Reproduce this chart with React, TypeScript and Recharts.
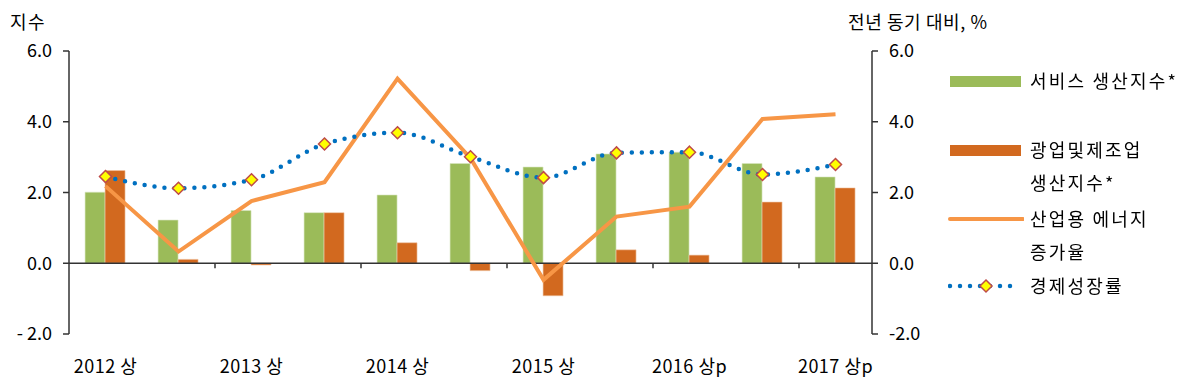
import {
  ComposedChart,
  Bar,
  Line,
  XAxis,
  YAxis,
  ReferenceLine,
  Legend,
  Label,
} from 'recharts'

const categories = [
  '2012 상', '2012 하', '2013 상', '2013 하', '2014 상', '2014 하',
  '2015 상', '2015 하', '2016 상p', '2016 하p', '2017 상p',
]
const serviceIndex = [2.01, 1.22, 1.49, 1.43, 1.93, 2.82, 2.72, 3.09, 3.14, 2.82, 2.44]
const miningIndex = [2.62, 0.11, -0.05, 1.43, 0.58, -0.21, -0.92, 0.38, 0.23, 1.73, 2.13]
const energyGrowth = [2.18, 0.33, 1.76, 2.29, 5.22, 2.97, -0.47, 1.32, 1.6, 4.08, 4.21]
const gdpGrowth = [2.45, 2.12, 2.36, 3.37, 3.69, 3.01, 2.42, 3.12, 3.14, 2.51, 2.79]
const yTicks = [-2, 0, 2, 4, 6]

const legendItems = [
  { key: 'service', lines: ['서비스 생산지수*'], kind: 'bar', color: '#9bbb59', top: 64 },
  { key: 'mining', lines: ['광업및제조업', '생산지수*'], kind: 'bar', color: '#d2691f', top: 133 },
  { key: 'energy', lines: ['산업용 에너지', '증가율'], kind: 'line', color: '#f79646', top: 202 },
  { key: 'gdp', lines: ['경제성장률'], kind: 'dots', color: '#0070c0', top: 269 },
]

const chartData = categories.map((c, i) => ({
  name: c,
  service: serviceIndex[i],
  mining: miningIndex[i],
  energy: energyGrowth[i],
  gdp: gdpGrowth[i],
}))

const FONT = '"Noto Sans CJK KR", "Noto Sans", sans-serif'
const TXT = '#000'
const W = 1200
const H = 386
const M = { top: 51, right: 268, bottom: 0, left: 9 }
const AXIS_W = 60
const X_H = 52
const plotLeft = M.left + AXIS_W
const plotRight = W - M.right - AXIS_W
const plotTop = M.top
const plotBottom = H - M.bottom - X_H
const band = (plotRight - plotLeft) / categories.length
const zeroY = plotTop + ((6 - 0) / 8) * (plotBottom - plotTop)

function XTick(props: any) {
  const { x, y, payload } = props
  const i = payload.index
  if (i % 2 !== 0) return null
  return (
    <g>
      {i > 0 && (
        <line x1={x - band / 2} x2={x - band / 2} y1={zeroY} y2={zeroY + 5} stroke="#333" strokeWidth={1.5} />
      )}
      <text x={x} y={y + 31} textAnchor="middle" fill={TXT} fontSize={18} fontFamily={FONT} letterSpacing={0.5}>
        {payload.value}
      </text>
    </g>
  )
}

function Diamond(props: any) {
  const { cx, cy } = props
  if (cx == null || cy == null) return null
  const r = 6
  return (
    <polygon
      points={`${cx},${cy - r} ${cx + r},${cy} ${cx},${cy + r} ${cx - r},${cy}`}
      fill="#ffff00"
      stroke="#be4b48"
      strokeWidth={1.5}
    />
  )
}

function LegendBox() {
  return (
    <div style={{ position: 'relative', width: 250, height: 320, fontFamily: FONT }}>
      {legendItems.map((it) => (
        <div key={it.key} style={{ position: 'absolute', left: 0, top: it.top }}>
          <svg width={76} height={34} style={{ position: 'absolute', left: -2, top: 0 }}>
            {it.kind === 'bar' && <rect x={2} y={12} width={71} height={11} fill={it.color} />}
            {it.kind === 'line' && (
              <line x1={2} x2={75} y1={17} y2={17} stroke={it.color} strokeWidth={4} strokeLinecap="round" />
            )}
            {it.kind === 'dots' && (
              <g>
                <line x1={2} x2={66} y1={17} y2={17} stroke={it.color} strokeWidth={4.5}
                  strokeDasharray="0 10" strokeLinecap="round" />
                <Diamond cx={38} cy={17} />
              </g>
            )}
          </svg>
          <div style={{ position: 'absolute', left: 80, top: 0, width: 200 }}>
            {it.lines.map((l) => (
              <div key={l} style={{ fontSize: 18, lineHeight: '33px', letterSpacing: 2.2, color: TXT, whiteSpace: 'nowrap' }}>
                {l}
              </div>
            ))}
          </div>
        </div>
      ))}
    </div>
  )
}

const fmtLeft = (v: number) => (v < 0 ? `- ${Math.abs(v).toFixed(1)}` : v.toFixed(1))
const fmtRight = (v: number) => v.toFixed(1)

export default function App() {
  return (
    <div style={{ position: 'fixed', left: 0, top: 0, width: W, height: H, background: '#fff' }}>
      <ComposedChart
        width={W}
        height={H}
        data={chartData}
        margin={M}
        barCategoryGap="22%"
        barGap={0}
        style={{ fontFamily: FONT }}
      >
        <XAxis
          dataKey="name"
          interval={0}
          axisLine={false}
          tickLine={false}
          height={X_H}
          tick={<XTick />}
        />
        <YAxis
          yAxisId="left"
          domain={[-2, 6]}
          ticks={yTicks}
          width={AXIS_W}
          stroke="#333"
          strokeWidth={1.5}
          tickSize={6}
          tickMargin={11}
          tickFormatter={fmtLeft}
          tick={{ fill: TXT, fontSize: 18, fontFamily: FONT }}
        >
          <Label
            content={(p: any) => (
              <text x={10} y={p.viewBox.y - 22} fill={TXT} fontSize={18} fontFamily={FONT} letterSpacing={1.5}>
                지수
              </text>
            )}
          />
        </YAxis>
        <YAxis
          yAxisId="right"
          orientation="right"
          domain={[-2, 6]}
          ticks={yTicks}
          width={AXIS_W}
          stroke="#333"
          strokeWidth={1.5}
          tickSize={6}
          tickMargin={11}
          tickFormatter={fmtRight}
          tick={{ fill: TXT, fontSize: 18, fontFamily: FONT, textAnchor: 'start' }}
        >
          <Label
            content={(p: any) => (
              <text x={p.viewBox.x - 24} y={p.viewBox.y - 22} fill={TXT} fontSize={18} fontFamily={FONT} letterSpacing={0.6}>
                전년 동기 대비, %
              </text>
            )}
          />
        </YAxis>
        <Legend
          layout="vertical"
          align="center"
          verticalAlign="middle"
          wrapperStyle={{ position: 'absolute', left: 950, top: 0, width: 250 }}
          content={() => <LegendBox />}
        />
        <ReferenceLine yAxisId="left" y={0} stroke="#333" strokeWidth={1.5} />
        <Bar
          yAxisId="left"
          dataKey="service"
          name="서비스 생산지수*"
          fill="#9bbb59"
          stroke="#d9e6c3"
          strokeWidth={0.6}
          isAnimationActive={false}
        />
        <Bar
          yAxisId="left"
          dataKey="mining"
          name="광업및제조업 생산지수*"
          fill="#d2691f"
          stroke="#f0c8a8"
          strokeWidth={0.6}
          isAnimationActive={false}
        />
        <Line
          yAxisId="right"
          dataKey="energy"
          name="산업용 에너지 증가율"
          type="linear"
          stroke="#f79646"
          strokeWidth={4}
          dot={false}
          activeDot={false}
          isAnimationActive={false}
        />
        <Line
          yAxisId="right"
          dataKey="gdp"
          name="경제성장률"
          type="monotone"
          stroke="#0070c0"
          strokeWidth={4.5}
          strokeDasharray="0 10"
          strokeLinecap="round"
          dot={<Diamond />}
          activeDot={false}
          isAnimationActive={false}
        />
      </ComposedChart>
    </div>
  )
}
